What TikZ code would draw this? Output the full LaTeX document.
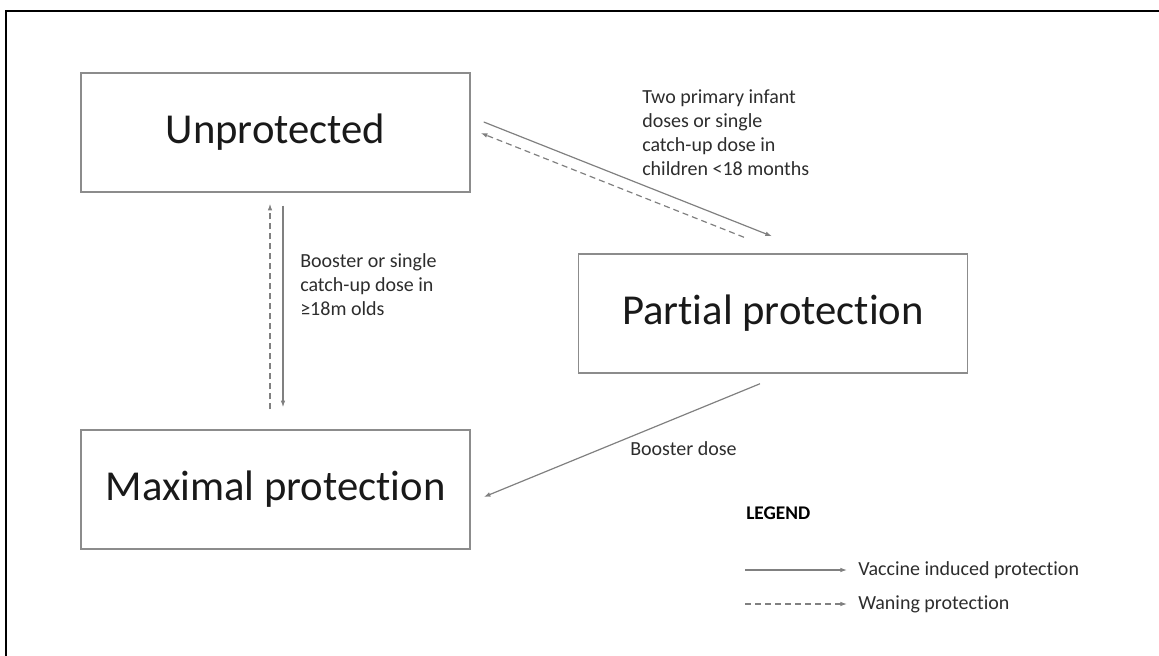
\documentclass[tikz,border=0pt]{standalone}
\usepackage{fontspec}
\setmainfont{Carlito}[Ligatures={NoCommon,NoRequired,NoContextual}]
\usetikzlibrary{calc,arrows.meta}
\definecolor{linegray}{RGB}{128,128,128}
\definecolor{boxgray}{RGB}{140,140,140}
\definecolor{txtgray}{RGB}{45,45,45}

\begin{document}
\begin{tikzpicture}[x=0.75pt,y=0.75pt,yscale=-1,xscale=1,
	state/.style={draw=boxgray,line width=1.1pt,minimum width=291.75pt,minimum height=89.25pt,inner sep=0pt,font=\fontsize{32}{38}\selectfont,text=black!90},
	vac/.style={draw=linegray,line width=0.9pt,-{Latex[length=5pt,width=3.5pt]}},
	wane/.style={vac,dash pattern=on 4.5pt off 3pt},
	lbl/.style={inner sep=0pt,align=left,text=txtgray,font=\fontsize{15}{18}\selectfont}]
	\useasboundingbox (0,0) rectangle (1159,656);
	\draw [line width=1.2pt] (6,656) -- (6,11) -- (1159,11);

	% the three states
	\node [state] (unprot) at (275.5,132.5) {Unprotected};
	\node [state] (partial) at (773,313.5) {Partial protection};
	\node [state] (maxp) at (275.5,489.5) {Maximal protection};

	% transitions
	\draw [vac] ($(unprot.east)+(13,-10.5)$) -- ($(partial.north)+(-1,-17)$);
	\draw [wane] ($(partial.north)+(-29,-16)$) -- ($(unprot.east)+(10,0.5)$);
	\draw [vac] ($(unprot.south)+(7.5,13)$) -- ($(maxp.north)+(7.5,-22)$);
	\draw [wane] ($(maxp.north)+(-5.5,-20)$) -- ($(unprot.south)+(-5.5,11)$);
	\draw [vac] ($(partial.south)+(-13,10)$) -- ($(maxp.east)+(13,7.5)$);

	\node [lbl,anchor=west] (twodose) at (642,133) {Two primary infant\\doses or single\\catch-up dose in\\children <18 months};
	\node [lbl,anchor=west] (boost18) at (300,285) {Booster or single\\catch-up dose in\\≥18m olds};
	\node [lbl,anchor=west] (boostdose) at (630,449) {Booster dose};

	% legend
	\node [lbl,anchor=west,text=black,font=\fontsize{14.5}{16}\bfseries] (legend) at (746,513) {LEGEND};
	\node [lbl,anchor=west] (vactxt) at (858,570) {Vaccine induced protection};
	\node [lbl,anchor=west] (wanetxt) at (858,604) {Waning protection};
	\coordinate (vacstart) at (745,570);
	\coordinate (wanestart) at (745,604);
	\draw [vac] (vacstart) -- ($(vactxt.west)+(-11,0)$);
	\draw [wane] (wanestart) -- ($(wanetxt.west)+(-11,0)$);
\end{tikzpicture}
\end{document}
